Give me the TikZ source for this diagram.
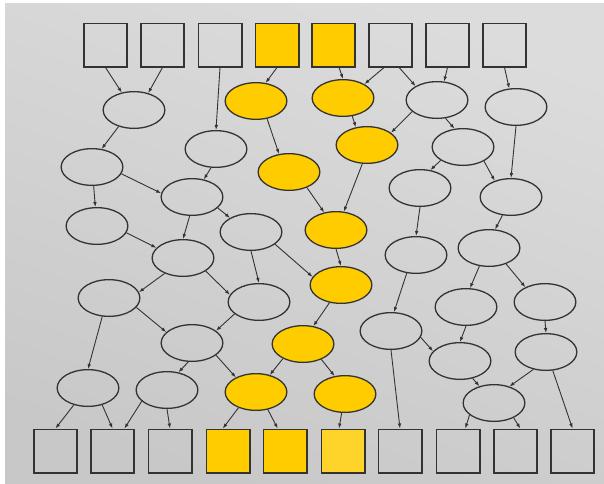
\documentclass[tikz,border=0pt]{standalone}
\usetikzlibrary{arrows.meta, shapes.geometric}
\definecolor{edge-line}{HTML}{333333}
\definecolor{task-gold}{HTML}{FFCC00}
\definecolor{task-pale}{HTML}{FFD42A}
\definecolor{bg-top}{HTML}{DCDCDC}
\definecolor{bg-bottom}{HTML}{C8C8C8}
\tikzset{
  box/.style={draw=edge-line, line width=1.6pt, minimum size=43.4pt, inner sep=0pt},
  job/.style={ellipse, draw=edge-line, line width=1.3pt, minimum width=61.7pt,
    minimum height=36.7pt, inner sep=0pt},
  hot/.style={fill=task-gold},
  % Edges between jobs
  link/.style={draw=edge-line, line width=0.9pt, -{Latex[length=5pt, width=3.6pt]}}
}

\begin{document}
\begin{tikzpicture}[x=1pt, y=-1pt]

  % ---- Backdrop -----------------------------------------------------------
  \useasboundingbox (0,0) rectangle (604,483);
  \shade[top color=bg-top, bottom color=bg-bottom, shading angle=-20]
        (5,3) rectangle (604,483);

  % ---- Top row: sources ---------------------------------------------------
  \node[box] (T1) at (105.5,45) {};
  \node[box] (T2) at (162.5,45) {};
  \node[box] (T3) at (220,45) {};
  \node[box, hot] (T4) at (277,45) {};
  \node[box, hot] (T5) at (333.5,45) {};
  \node[box] (T6) at (390.5,45) {};
  \node[box] (T7) at (447.5,45) {};
  \node[box] (T8) at (504.5,45) {};

  % ---- Left cluster -------------------------------------------------------
  \node[job] (Ea) at (134,110) {};
  \node[job] (Eb) at (216,149) {};
  \node[job] (Ec) at (92,167) {};
  \node[job] (Ed) at (192,197) {};
  \node[job] (Ee) at (97,226) {};
  \node[job] (Ef) at (251,232) {};
  \node[job] (En) at (183,258) {};
  \node[job] (Eo) at (109,298) {};
  \node[job] (Ep) at (259,302) {};
  \node[job] (Eq) at (192,343) {};
  \node[job] (Er) at (88,388) {};
  \node[job] (Es) at (167,390) {};

  % ---- Highlighted path ---------------------------------------------------
  \node[job, hot] (Y1) at (256,101) {};
  \node[job, hot] (Y2) at (289,172) {};
  \node[job, hot] (Y3) at (343,98) {};
  \node[job, hot] (Y4) at (367,145) {};
  \node[job, hot] (Y5) at (336,230) {};
  \node[job, hot] (Y6) at (341,285) {};
  \node[job, hot] (Y7) at (303,344) {};
  \node[job, hot] (Y8) at (256,392) {};
  \node[job, hot] (Y9) at (345,394) {};

  % ---- Right cluster ------------------------------------------------------
  \node[job] (Eg) at (437,100) {};
  \node[job] (Eh) at (516,107) {};
  \node[job] (Ei) at (463,147) {};
  \node[job] (Ej) at (420,188) {};
  \node[job] (Ek) at (511,197) {};
  \node[job] (El) at (416,255) {};
  \node[job] (Em) at (489,248) {};
  \node[job] (Et) at (391,331) {};
  \node[job] (Eu) at (466,307) {};
  \node[job] (Ev) at (545,302) {};
  \node[job] (Ew) at (460,361) {};
  \node[job] (Ex) at (546,352) {};
  \node[job] (Ey) at (494,403) {};

  % ---- Bottom row: sinks --------------------------------------------------
  \node[box] (B1) at (55.5,451) {};
  \node[box] (B2) at (112.5,451) {};
  \node[box] (B3) at (170,451) {};
  \node[box, hot] (B4) at (228,451) {};
  \node[box, hot] (B5) at (285,451) {};
  \node[box, fill=task-pale] (B6) at (343,451) {};
  \node[box] (B7) at (400,451) {};
  \node[box] (B8) at (458,451) {};
  \node[box] (B9) at (515.5,451) {};
  \node[box] (B10) at (572.5,451) {};

  % ---- Edges out of the top row -------------------------------------------
  \draw[link] (T1.south) -- (Ea.125);
  \draw[link] (T2.south) -- (Ea.50);
  \draw[link] (T3.south) -- (Eb.north);
  \draw[link] (T4.south) -- (Y1.62);
  \draw[link] (T5.-76) -- (Y3.north);
  \draw[link] (T6.-106) -- (Y3.33);
  \draw[link] (T6.-69) -- (Eg.147);
  \draw[link] (T7.south) -- (Eg.69);
  \draw[link] (T8.south) -- (Eh.110);

  % ---- Left cluster edges -------------------------------------------------
  \draw[link] (Ea.-133) -- (Ec.62);
  \draw[link] (Eb.-105) -- (Ed.56);
  \draw[link] (Ec.-13) -- (Ed.173);
  \draw[link] (Ec.-85) -- (Ee.95);
  \draw[link] (Ed.-97) -- (En.north);
  \draw[link] (Ed.-23) -- (Ef.146);
  \draw[link] (Ee.-13) -- (En.159);
  \draw[link] (Ef.south) -- (Ep.north);
  \draw[link] (Ef.-27) -- (Y6.164);
  \draw[link] (En.-140) -- (Eo.11);
  \draw[link] (En.-30) -- (Ep.166);
  \draw[link] (Eo.-19) -- (Eq.157);
  \draw[link] (Ep.-154) -- (Eq.27);
  \draw[link] (Eo.-110) -- (Er.north);
  \draw[link] (Eq.-101) -- (Es.57);
  \draw[link] (Eq.-27) -- (Y8.144);

  % ---- Highlighted path edges ---------------------------------------------
  \draw[link] (Y1.-58) -- (Y2.119);
  \draw[link] (Y3.-63) -- (Y4.122);
  \draw[link] (Y2.-41) -- (Y5.124);
  \draw[link] (Y4.-104) -- (Y5.67);
  \draw[link] (Y5.south) -- (Y6.north);
  \draw[link] (Y6.-123) -- (Y7.60);
  \draw[link] (Y7.-144) -- (Y8.51);
  \draw[link] (Y7.-40) -- (Y9.120);

  % ---- Right cluster edges ------------------------------------------------
  \draw[link] (Eg.-155) -- (Y4.27);
  \draw[link] (Eg.-65) -- (Ei.115);
  \draw[link] (Eh.south) -- (Ek.north);
  \draw[link] (Ei.-149) -- (Ej.60);
  \draw[link] (Ei.-34) -- (Ek.135);
  \draw[link] (Ej.south) -- (El.north);
  \draw[link] (Ek.-115) -- (Em.72);
  \draw[link] (El.-117) -- (Et.81);
  \draw[link] (Em.-118) -- (Eu.78);
  \draw[link] (Em.-43) -- (Ev.143);
  \draw[link] (Eu.south) -- (Ew.north);
  \draw[link] (Et.-12) -- (Ew.160);
  \draw[link] (Ev.south) -- (Ex.north);
  \draw[link] (Ew.-54) -- (Ey.131);
  \draw[link] (Ex.-126) -- (Ey.47);

  % ---- Edges into the bottom row ------------------------------------------
  \draw[link] (Er.-130) -- (B1.north);
  \draw[link] (Er.-50) -- (B2.north);
  \draw[link] (Es.-156) -- (B2.62);
  \draw[link] (Es.south) -- (B3.north);
  \draw[link] (Y8.-138) -- (B4.103);
  \draw[link] (Y8.-56) -- (B5.108);
  \draw[link] (Y9.-100) -- (B6.100);
  \draw[link] (Et.south) -- (B7.north);
  \draw[link] (Ey.-154) -- (B8.72);
  \draw[link] (Ey.-37) -- (B9.78);
  \draw[link] (Ex.-70) -- (B10.north);

\end{tikzpicture}
\end{document}
